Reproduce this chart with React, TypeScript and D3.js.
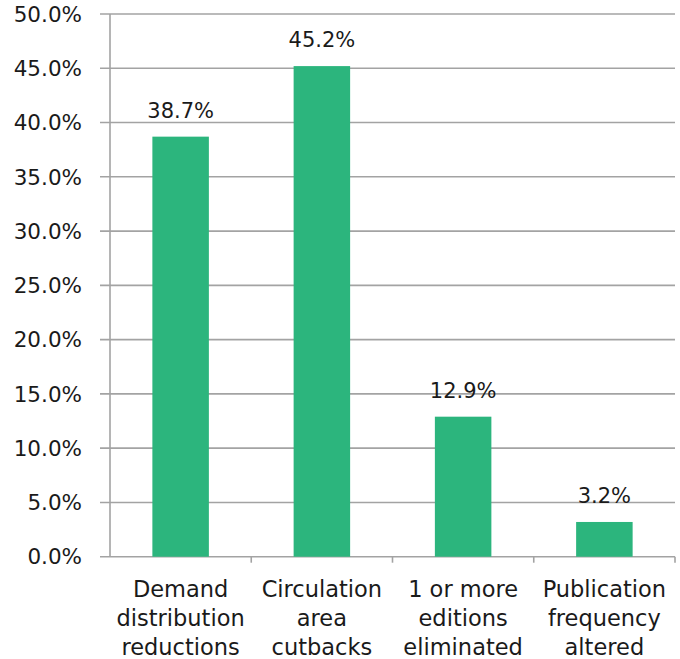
import React from "react";
import * as d3 from "d3";

const categories: string[][] = [
  ["Demand", "distribution", "reductions"],
  ["Circulation", "area", "cutbacks"],
  ["1 or more", "editions", "eliminated"],
  ["Publication", "frequency", "altered"],
];
const values: number[] = [38.7, 45.2, 12.9, 3.2];
const yTicks: number[] = [0, 5, 10, 15, 20, 25, 30, 35, 40, 45, 50];

const W = 680;
const H = 659;
const left = 110;
const right = 675;
const top = 14;
const bottom = 556.7;
const FONT = "'DejaVu Sans', Verdana, sans-serif";
const GRID = "#a3a3a3";
const BAR = "#2cb57d";

export default function App() {
  const x = d3
    .scaleBand<number>()
    .domain(values.map((_, i) => i))
    .range([left, right])
    .paddingInner(0.6)
    .paddingOuter(0.3);
  const band = (right - left) / values.length;
  const y = d3.scaleLinear().domain([0, 50]).range([bottom, top]);

  return (
    <svg
      width={W}
      height={H}
      style={{ position: "absolute", left: 0, top: 0, background: "#fff" }}
      fontFamily={FONT}
    >
      {yTicks.map((t) => (
        <g key={t}>
          <line
            x1={left - 10}
            x2={right}
            y1={y(t)}
            y2={y(t)}
            stroke={GRID}
            strokeWidth={1.6}
          />
          <text
            x={82}
            y={y(t)}
            dy="0.36em"
            textAnchor="end"
            fontSize={21.5}
            fill="#1a1a1a"
          >
            {t.toFixed(1) + "%"}
          </text>
        </g>
      ))}
      <line x1={left} x2={left} y1={top} y2={bottom} stroke={GRID} strokeWidth={1.6} />
      {values.map((_, i) => (
        <line
          key={i}
          x1={left + band * (i + 1)}
          x2={left + band * (i + 1)}
          y1={bottom}
          y2={bottom + 6}
          stroke={GRID}
          strokeWidth={1.6}
        />
      ))}
      {values.map((v, i) => (
        <g key={i}>
          <rect
            x={x(i)!}
            y={y(v)}
            width={x.bandwidth()}
            height={y(0) - y(v)}
            fill={BAR}
          />
          <text
            x={x(i)! + x.bandwidth() / 2}
            y={y(v) - 19}
            textAnchor="middle"
            fontSize={21}
            fill="#1a1a1a"
          >
            {v.toFixed(1) + "%"}
          </text>
          {categories[i].map((line, j) => (
            <text
              key={j}
              x={x(i)! + x.bandwidth() / 2}
              y={597 + j * 29}
              textAnchor="middle"
              fontSize={22.5}
              fill="#1a1a1a"
            >
              {line}
            </text>
          ))}
        </g>
      ))}
    </svg>
  );
}
